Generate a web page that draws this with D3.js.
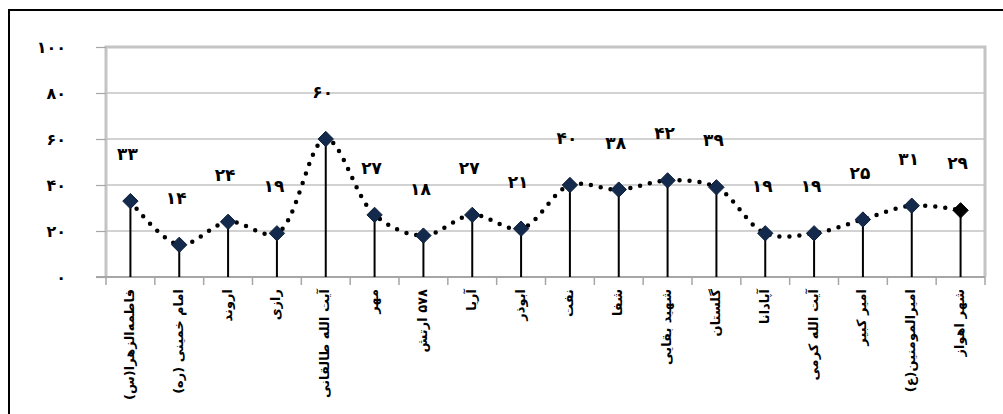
<!DOCTYPE html>
<html lang="fa">
<head>
<meta charset="UTF-8">
<title>chart</title>
<script src="https://d3js.org/d3.v7.min.js"></script>
<style>
  body { margin: 0; background: #fff; }
  svg { display: block; }
  text { font-family: "DejaVu Sans", sans-serif; }
</style>
</head>
<body>
<svg id="canvas" width="1003" height="414"></svg>
<script>
// data
const categories = [
  "فاطمه‌الزهرا(س)", "امام خمینی (ره)", "اروند", "رازی", "آیت الله طالقانی",
  "مهر", "۵۷۸ ارتش", "آریا", "ابوذر", "نفت", "شفا", "شهید بقایی",
  "گلستان", "آپادانا", "آیت الله کرمی", "امیر کبیر", "امیرالمومنین(ع)", "شهر اهواز"
];
const values = [33, 14, 24, 19, 60, 27, 18, 27, 21, 40, 38, 42, 39, 19, 19, 25, 31, 29];
const yTicks = [0, 20, 40, 60, 80, 100];

const faDigits = n => String(n).replace(/\d/g, d => "۰۱۲۳۴۵۶۷۸۹"[d]);

const svg = d3.select("#canvas");
const plotL = 106, plotR = 985, plotT = 47, plotB = 277;

// outer frame
svg.append("rect")
  .attr("x", 9).attr("y", 10).attr("width", 1010).attr("height", 420)
  .attr("fill", "none").attr("stroke", "#000").attr("stroke-width", 2);

const x = d3.scaleBand().domain(categories).range([plotL, plotR]);
const y = d3.scaleLinear().domain([0, 100]).range([plotB, plotT]);

// gridlines
svg.append("g").selectAll("line")
  .data(yTicks.filter(d => d > 0))
  .join("line")
  .attr("x1", plotL).attr("x2", plotR)
  .attr("y1", d => y(d)).attr("y2", d => y(d))
  .attr("stroke", "#a6a6a6").attr("stroke-width", 1.2);

// plot area border
svg.append("path")
  .attr("d", `M${plotL},${plotB}V${plotT}H${plotR}V${plotB}`)
  .attr("fill", "none").attr("stroke", "#c4c4c4").attr("stroke-width", 3);

// y axis
const yAxis = svg.append("g")
  .attr("transform", `translate(${plotL},0)`)
  .call(d3.axisLeft(y).tickValues(yTicks).tickSize(10).tickPadding(30).tickFormat(faDigits));
yAxis.select(".domain").remove();
yAxis.selectAll("line").attr("stroke", "#a6a6a6").attr("stroke-width", 1.2);
yAxis.selectAll("text")
  .attr("font-size", 16).attr("font-weight", "bold").attr("fill", "#000");

// x axis with ticks between categories
svg.append("line")
  .attr("x1", plotL - 10).attr("x2", plotR)
  .attr("y1", plotB).attr("y2", plotB)
  .attr("stroke", "#a6a6a6").attr("stroke-width", 2);
svg.append("g").selectAll("line")
  .data(categories)
  .join("line")
  .attr("x1", d => x(d)).attr("x2", d => x(d))
  .attr("y1", plotB).attr("y2", plotB + 8)
  .attr("stroke", "#a6a6a6").attr("stroke-width", 1.5);
svg.append("line")
  .attr("x1", plotR).attr("x2", plotR)
  .attr("y1", plotB).attr("y2", plotB + 8)
  .attr("stroke", "#a6a6a6").attr("stroke-width", 1.5);

const cx = d => x(d) + x.bandwidth() / 2;

// category labels
svg.append("g").selectAll("text")
  .data(categories)
  .join("text")
  .attr("transform", d => `translate(${cx(d)},${plotB + 12}) rotate(-90)`)
  .attr("direction", "rtl")
  .attr("text-anchor", "start")
  .attr("dominant-baseline", "middle")
  .attr("font-size", 13).attr("font-weight", "bold")
  .text(d => d);

// drop lines
svg.append("g").selectAll("line")
  .data(values)
  .join("line")
  .attr("x1", (d, i) => cx(categories[i])).attr("x2", (d, i) => cx(categories[i]))
  .attr("y1", d => y(d)).attr("y2", plotB)
  .attr("stroke", "#000").attr("stroke-width", 2);

// dotted smooth line
const line = d3.line()
  .x((d, i) => cx(categories[i]))
  .y(d => y(d))
  .curve(d3.curveCatmullRom.alpha(0.5));
svg.append("path")
  .attr("d", line(values))
  .attr("fill", "none").attr("stroke", "#000")
  .attr("stroke-width", 4.5).attr("stroke-linecap", "round")
  .attr("stroke-dasharray", "0 10");

// markers
const diamond = d3.symbol().type(d3.symbolDiamond2).size(150);
svg.append("g").selectAll("path")
  .data(values)
  .join("path")
  .attr("d", diamond)
  .attr("transform", (d, i) => `translate(${cx(categories[i])},${y(d)})`)
  .attr("fill", (d, i) => i === values.length - 1 ? "#000" : "#132a4c")
  .attr("stroke", (d, i) => i === values.length - 1 ? "#000" : "#0c1d38")
  .attr("stroke-width", 1);

// data labels
svg.append("g").selectAll("text")
  .data(values)
  .join("text")
  .attr("x", (d, i) => cx(categories[i]) - 3)
  .attr("y", d => y(d) - 46)
  .attr("text-anchor", "middle")
  .attr("dominant-baseline", "middle")
  .attr("font-size", 17).attr("font-weight", "bold")
  .text(d => faDigits(d));
</script>
</body>
</html>
